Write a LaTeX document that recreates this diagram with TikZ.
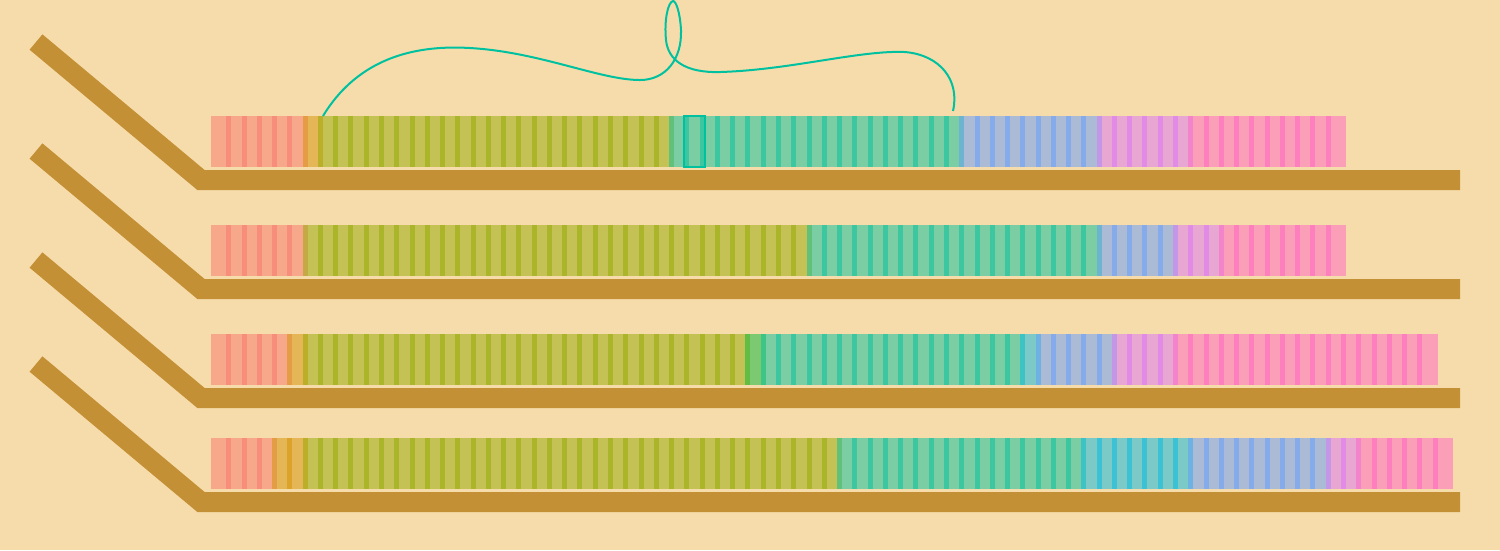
\documentclass[tikz,border=0pt]{standalone}

\definecolor{bgwheat}{HTML}{F7DCAB}
\definecolor{shelfbrown}{HTML}{C49035}
\definecolor{hsalmon}{HTML}{F8766D}
\definecolor{horange}{HTML}{D39200}
\definecolor{holive}{HTML}{93AA00}
\definecolor{hgreen}{HTML}{00BA38}
\definecolor{hteal}{HTML}{00C19F}
\definecolor{hcyan}{HTML}{00B9E3}
\definecolor{hblue}{HTML}{619CFF}
\definecolor{hviolet}{HTML}{DB72FB}
\definecolor{hpink}{HTML}{FF61C3}

\tikzset{
  shelf/.style={draw=shelfbrown, line width=0.2cm},
  slot/.style={fill=#1, fill opacity=0.5},
  thread/.style={draw=hteal, line width=0.2mm}
}

% one row of slots: #1 = top edge, #2 = runs colour/first/last
\newcommand{\slotrow}[2]{%
  \foreach \col/\first/\last in {#2} {
    \foreach \k in {\first,...,\last} {
      \fill[slot=\col] ({211+\k*15.27},#1) rectangle ++(20.27,51);
    }
  }%
}

\begin{document}
\begin{tikzpicture}[x=0.01cm, y=-0.01cm]

  % -- Background --
  \fill[bgwheat] (0,0) rectangle (1500,550);
  \useasboundingbox (0,0) rectangle (1500,550);

  % -- Shelves --
  \foreach \y in {180,289,398,502}
    \draw[shelf] (36,{\y-138}) -- (201,\y) -- (1460,\y);

  % -- Slot rows --
  \slotrow{116}{hsalmon/0/5, horange/6/6, holive/7/29, hteal/30/48,
    hblue/49/57, hviolet/58/63, hpink/64/73}
  \slotrow{225}{hsalmon/0/5, holive/6/38, hteal/39/57, hblue/58/62,
    hviolet/63/65, hpink/66/73}
  \slotrow{334}{hsalmon/0/4, horange/5/5, holive/6/34, hgreen/35/35,
    hteal/36/52, hcyan/53/53, hblue/54/58, hviolet/59/62, hpink/63/79}
  \slotrow{438}{hsalmon/0/3, horange/4/5, holive/6/40, hteal/41/56,
    hcyan/57/63, hblue/64/72, hviolet/73/74, hpink/75/80}

  % -- Marked slot and thread --
  \draw[thread] ({211+31*15.27},116) rectangle ++(20.27,51);
  \draw[thread] (323,116) .. controls (360,55) and (420,45) .. (470,48)
    .. controls (540,52) and (600,80) .. (640,80)
    .. controls (665,80) and (682,60) .. (681,30)
    .. controls (680,12) and (676,1) .. (673,1)
    .. controls (668,2) and (664,20) .. (666,40)
    .. controls (668,60) and (685,73) .. (720,72)
    .. controls (790,70) and (860,50) .. (905,52)
    .. controls (940,55) and (960,80) .. (953,111);

\end{tikzpicture}
\end{document}
